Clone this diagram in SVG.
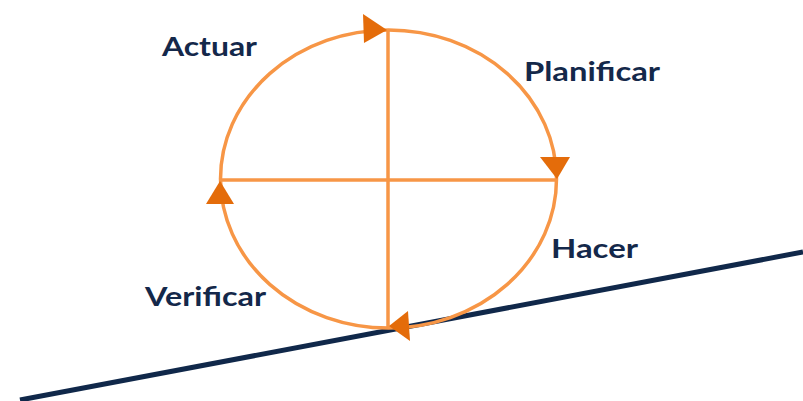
<svg xmlns="http://www.w3.org/2000/svg" width="803" height="401" viewBox="0 0 803 401">
<style>
.c{fill:none;stroke:#F79646;stroke-width:3.5}
.a{fill:#E46C0A}
.t{font-family:"Lato","Liberation Sans",sans-serif;font-weight:bold;font-size:27px;fill:#14284A}
</style>
<rect width="803" height="401" fill="#fff"/>
<g id="connectors">
<line x1="20" y1="400" x2="803" y2="252" stroke="#10284A" stroke-width="5"/>
<ellipse class="c" cx="388.5" cy="179" rx="168" ry="149"/>
<line class="c" x1="388" y1="30" x2="388" y2="328"/>
<line class="c" x1="220" y1="180" x2="557" y2="180"/>
</g>
<g id="arrows">
<polygon class="a" points="363,14 387,30 364,43"/>
<polygon class="a" points="540,157 570,157 557,179"/>
<polygon class="a" points="220,181 234,204 206,204"/>
<polygon class="a" points="389,326 408,311 410,341"/>
</g>
<g id="actuar"><text class="t" x="162" y="56" textLength="95" lengthAdjust="spacingAndGlyphs">Actuar</text></g>
<g id="planificar"><text class="t" x="524" y="81" textLength="136" lengthAdjust="spacingAndGlyphs">Planificar</text></g>
<g id="hacer"><text class="t" x="551" y="258" textLength="87" lengthAdjust="spacingAndGlyphs">Hacer</text></g>
<g id="verificar"><text class="t" x="145" y="306" textLength="121" lengthAdjust="spacingAndGlyphs">Verificar</text></g>
</svg>
